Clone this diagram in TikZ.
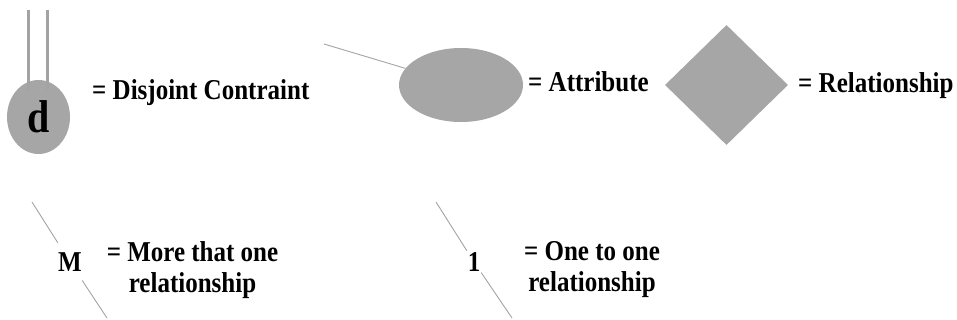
\documentclass[tikz,border=0pt]{standalone}
\usepackage{fontspec}
\newfontfamily\legendfont[FakeStretch=0.87]{Liberation Serif}
\usetikzlibrary{shapes.geometric}
\definecolor{ShapeGray}{HTML}{A6A6A6}
\definecolor{LineGray}{HTML}{A3A3A3}

\begin{document}
\begin{tikzpicture}[
  x=1pt,y=-1pt,
  legend/.style={font=\legendfont\bfseries\fontsize{28.75}{31}\selectfont,inner sep=0pt},
  shapebox/.style={fill=ShapeGray,draw=none,inner sep=0pt},
  thinline/.style={draw=LineGray,line width=0.9pt},
  pipe/.style={draw=LineGray,line width=3pt}
]
\useasboundingbox (0,0) rectangle (957,320);
% top row: symbols and their meaning
\node[shapebox,ellipse,minimum width=63pt,minimum height=74pt,font=\legendfont\bfseries\fontsize{46}{46}\selectfont] (dis) at (38.5,117) {d};
\coordinate (pipeA) at (28,10); \coordinate (pipeAend) at (28,90);
\coordinate (pipeB) at (47,10); \coordinate (pipeBend) at (47,90);
\draw[pipe] (pipeA)--(pipeAend); \draw[pipe] (pipeB)--(pipeBend);
\node[legend,anchor=base west] (dislabel) at (92,100) {= Disjoint Contraint};
\node[shapebox,ellipse,minimum width=124pt,minimum height=74pt] (att) at (461,85) {};
\coordinate (attfree) at (324,44);
\draw[thinline] (attfree)--(att);
\node[legend,anchor=base west] (attlabel) at (528,92) {= Attribute};
\node[shapebox,diamond,minimum width=123pt,minimum height=120pt] (rel) at (726.5,85) {};
\node[legend,anchor=base west] (rellabel) at (798,93) {= Relationship};
% bottom row: cardinalities
\node[legend,minimum width=24pt,minimum height=40pt] (cardM) at (70,262) {M};
\coordinate (mtop) at (32,202); \coordinate (mbot) at (107,318);
\draw[thinline] (mtop)--(cardM); \draw[thinline] (cardM)--(mbot);
\node[legend,align=center] (mlabel) at (192.5,270) {= More that one\\relationship};
\node[legend,minimum width=14pt,minimum height=24pt] (cardOne) at (474,262) {1};
\coordinate (onetop) at (436,202); \coordinate (onebot) at (512,318);
\draw[thinline] (onetop)--(cardOne); \draw[thinline] (cardOne)--(onebot);
\node[legend,align=center] (onelabel) at (592,270) {= One to one\\relationship};
\end{tikzpicture}
\end{document}
